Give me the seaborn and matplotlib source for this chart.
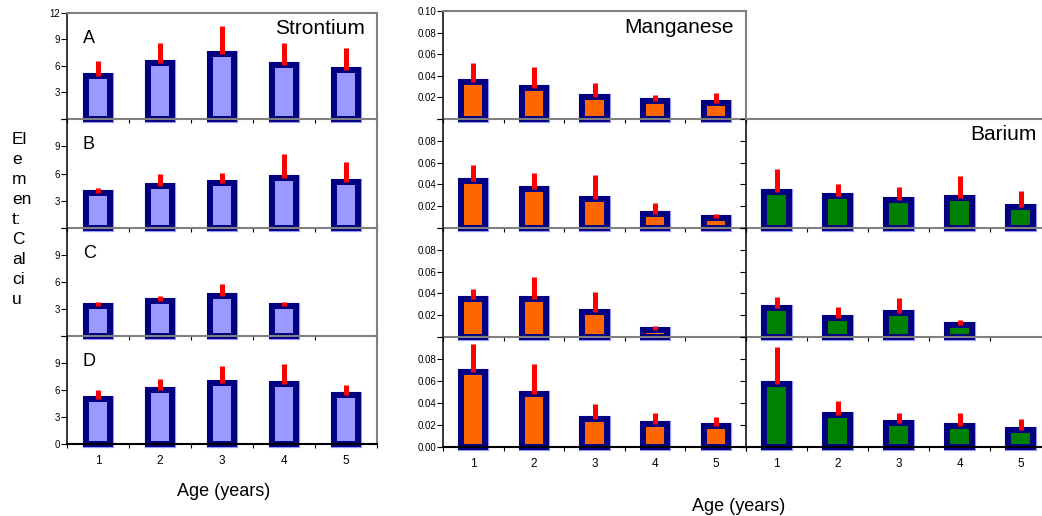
import numpy as np
import pandas as pd
import matplotlib
matplotlib.use("Agg")
import matplotlib.pyplot as plt
import matplotlib.patheffects as pe
import seaborn as sns

# ---- data ----
ages = [1, 2, 3, 4, 5]
rows = ["A", "B", "C", "D"]
nan = np.nan

sr_mean = {"A": [4.9, 6.3, 7.4, 6.1, 5.5],
           "B": [3.9, 4.67, 4.9, 5.55, 5.1],
           "C": [3.3, 3.9, 4.5, 3.3, nan],
           "D": [5.05, 5.97, 6.77, 6.68, 5.5]}
sr_sd = {"A": [1.65, 2.3, 3.1, 2.55, 2.5],
         "B": [0.5, 1.25, 1.2, 2.55, 2.2],
         "C": [0.45, 0.55, 1.25, 0.45, nan],
         "D": [0.95, 1.23, 1.93, 2.22, 1.1]}

mn_mean = {"A": [0.034, 0.029, 0.0205, 0.0168, 0.0152],
           "B": [0.043, 0.0355, 0.027, 0.0132, 0.0095],
           "C": [0.0353, 0.0353, 0.0225, 0.0066, nan],
           "D": [0.0683, 0.048, 0.0256, 0.021, 0.0192]}
mn_sd = {"A": [0.018, 0.0187, 0.013, 0.0057, 0.0085],
         "B": [0.015, 0.0148, 0.0216, 0.0093, 0.0033],
         "C": [0.0087, 0.0195, 0.0185, 0.0035, nan],
         "D": [0.0253, 0.0275, 0.0134, 0.010, 0.0083]}

ba_mean = {"B": [0.0327, 0.0296, 0.0259, 0.0271, 0.019],
           "C": [0.0263, 0.0172, 0.022, 0.0107, nan],
           "D": [0.0575, 0.0288, 0.0215, 0.0194, 0.0157]}
ba_sd = {"B": [0.021, 0.0104, 0.0121, 0.0209, 0.0146],
         "C": [0.0104, 0.0103, 0.014, 0.0049, nan],
         "D": [0.0331, 0.013, 0.0091, 0.0115, 0.0095]}

sr_ticks = [0, 3, 6, 9, 12]
sr_labels = {"A": ["", "3", "6", "9", "12"], "B": ["", "3", "6", "9", ""],
             "C": ["", "3", "6", "9", ""], "D": ["0", "3", "6", "9", ""]}
mn_ticks = [0, 0.02, 0.04, 0.06, 0.08, 0.10]
mn_labels = {"A": ["", "0.02", "0.04", "0.06", "0.08", "0.10"],
             "B": ["", "0.02", "0.04", "0.06", "0.08", ""],
             "C": ["", "0.02", "0.04", "0.06", "0.08", ""],
             "D": ["0.00", "0.02", "0.04", "0.06", "0.08", ""]}

# ---- style ----
plt.rcParams['font.family'] = ['Liberation Sans', 'DejaVu Sans']
NAVY = "#000080"
GRAY = "#808080"
W, H = 1042, 516
fig = plt.figure(figsize=(W / 100, H / 100), dpi=100)


def px_axes(x0, y0, x1, y1):
    return fig.add_axes([x0 / W, 1 - y1 / H, (x1 - x0) / W, (y1 - y0) / H])


def draw_row(ax, means, sds, fill, ymax, first, last):
    df = pd.DataFrame({"age": ages, "val": means}).dropna()
    sns.barplot(data=df, x="age", y="val", ax=ax, native_scale=True, width=0.4,
                color=fill, saturation=1, edgecolor=NAVY, linewidth=4.3,
                errorbar=None, clip_on=False, zorder=2)
    # thin light outline around the navy frame
    for p in ax.patches:
        p.set_path_effects([pe.Stroke(linewidth=5.2, foreground="#9999FF"),
                            pe.Normal()])
    ok = [i for i in range(len(ages)) if not np.isnan(means[i])]
    ax.vlines([ages[i] for i in ok], [means[i] for i in ok],
              [means[i] + sds[i] for i in ok], color="#FF0000", linewidth=3.6,
              capstyle="butt", zorder=3, clip_on=False)
    ax.set_xlim(0.5, 5.5)
    ax.set_ylim(0, ymax)
    ax.set_xlabel("")
    ax.set_ylabel("")
    ax.patch.set_visible(False)
    ax.set_xticks([0.5, 1.5, 2.5, 3.5, 4.5, 5.5])
    ax.set_xticklabels([])
    ax.tick_params(axis="x", which="major", direction="out", length=3, width=0.8)
    if last:
        ax.set_xticks(ages, minor=True)
        ax.set_xticklabels([str(a) for a in ages], minor=True, fontsize=8.5)
        ax.tick_params(axis="x", which="minor", length=0, pad=8)
    for s in ax.spines.values():
        s.set_linewidth(1.5)
    ax.spines["left"].set_color("black")
    ax.spines["left"].set_linewidth(1.1)
    ax.spines["bottom"].set_color("black" if last else GRAY)
    ax.spines["top"].set_color(GRAY)
    ax.spines["top"].set_visible(first)
    ax.spines["right"].set_color(GRAY)
    ax.tick_params(axis="y", direction="out", length=4, width=0.8, pad=1,
                   labelsize=7, colors="black")


# ---- Strontium column ----
sr_edges = [13, 119, 228, 336, 444]
for k, r in enumerate(rows):
    ax = px_axes(67, sr_edges[k], 377, sr_edges[k + 1])
    draw_row(ax, sr_mean[r], sr_sd[r], "#9999FF", 12, k == 0, k == 3)
    ax.set_yticks(sr_ticks)
    ax.set_yticklabels(sr_labels[r])
    fig.text(83 / W, 1 - (sr_edges[k] + 30) / H, r, fontsize=13, va="baseline")

# ---- Manganese column ----
mn_edges = [11, 119, 228, 337, 447]
for k, r in enumerate(rows):
    ax = px_axes(443, mn_edges[k], 746, mn_edges[k + 1])
    draw_row(ax, mn_mean[r], mn_sd[r], "#FF6600", 0.1, k == 0, k == 3)
    ax.set_yticks(mn_ticks)
    ax.set_yticklabels(mn_labels[r])
    if k > 0:
        ax.spines["right"].set_visible(False)

# ---- Barium column (runs past the right edge of the figure) ----
for k, r in enumerate(rows[1:], start=1):
    ax = px_axes(746, mn_edges[k], 1051, mn_edges[k + 1])
    draw_row(ax, ba_mean[r], ba_sd[r], "#008000", 0.1, k == 1, k == 3)
    ax.set_yticks(mn_ticks)
    ax.set_yticklabels([])
    ax.spines["right"].set_visible(False)

# ---- texts ----
fig.text(365 / W, 1 - 34 / H, "Strontium", fontsize=15, ha="right", va="baseline")
fig.text(734 / W, 1 - 33 / H, "Manganese", fontsize=15, ha="right", va="baseline")
fig.text(1037 / W, 1 - 140 / H, "Barium", fontsize=15, ha="right", va="baseline")
fig.text(177 / W, 1 - 496 / H, "Age (years)", fontsize=13, va="baseline")
fig.text(692 / W, 1 - 511 / H, "Age (years)", fontsize=13, va="baseline")
fig.text(12 / W, 1 - 132 / H, "El\ne\nm\nen\nt:\nC\nal\nci\nu", fontsize=12.5,
         va="top", ha="left", linespacing=1.42)

fig.savefig("out.png", dpi=100)
